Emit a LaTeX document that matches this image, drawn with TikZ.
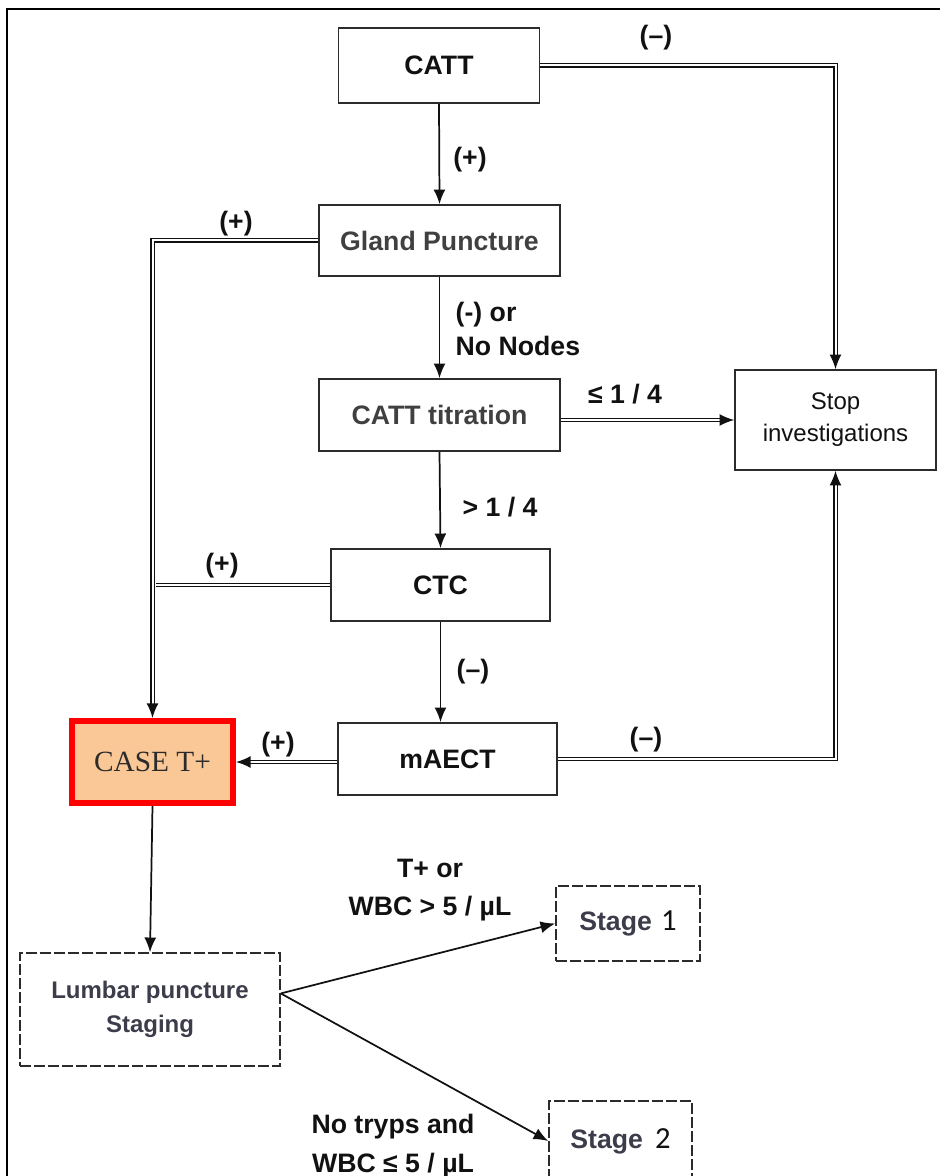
\documentclass[tikz,border=0pt]{standalone}
\usepackage{fontspec}
\setmainfont{Liberation Sans}
\newfontfamily\casefont{Liberation Serif}
\newfontfamily\digitfont{Carlito}
\usetikzlibrary{arrows.meta}
\definecolor{ink}{HTML}{111111}
\definecolor{edge}{HTML}{2B2B2B}
\definecolor{dim}{HTML}{404040}
\definecolor{slate}{HTML}{3C3C4A}
\definecolor{alert}{HTML}{FF0000}
\definecolor{peach}{HTML}{FAC896}

\begin{document}
\begin{tikzpicture}[x=0.75pt,y=-0.75pt,
  every node/.style={font=\fontsize{20}{28}\selectfont\bfseries,text=ink},
  box/.style={draw=edge,line width=1.2pt,inner sep=0pt,align=center},
  dashbox/.style={box,dash pattern=on 8.5pt off 2pt},
  tip/.style={-{Latex[length=11pt,width=9pt]}},
  one/.style={draw=ink,line width=1.3pt,tip},
  two/.style={draw=ink,line width=1.1pt,double,double distance=1.5pt}]
\useasboundingbox (0,0) rectangle (939,1176);
\draw[line width=2pt] (7,1190) -- (7,9) -- (950,9);

% boxes
\node[box,minimum width=150.75pt,minimum height=56.25pt] (catt) at (439,65.5) {CATT};
\node[box,minimum width=180.75pt,minimum height=53.25pt,text=dim] (gland) at (439.5,240.5) {Gland Puncture};
\node[box,minimum width=180.75pt,minimum height=54pt,text=dim] (titr) at (439.5,415) {CATT titration};
\node[box,minimum width=150.75pt,minimum height=75pt,font=\fontsize{18}{24}\selectfont] (stop) at (835.5,420) {Stop\\investigations};
\node[box,minimum width=164.25pt,minimum height=54pt] (ctc) at (440.5,585) {CTC};
\node[box,minimum width=164.25pt,minimum height=54pt] (maect) at (447.5,759) {mAECT};
\node[draw=alert,line width=4.5pt,fill=peach,inner sep=0pt,minimum width=120.75pt,minimum height=61.5pt,
  font=\casefont\fontsize{22}{26}\selectfont,text=edge] (caseT) at (152.5,762) {CASE T+};
\node[dashbox,minimum width=195pt,minimum height=84.75pt,text=slate,font=\fontsize{18}{25}\selectfont\bfseries] (lumbar) at (150,1009.5) {Lumbar puncture\\Staging};
\node[dashbox,minimum width=108pt,minimum height=56.25pt,text=slate] (stage1) at (628,923.5)
  {Stage\hspace{7pt}{\digitfont\mdseries\fontsize{23}{28}\selectfont\color{ink}1}};
\node[dashbox,minimum width=107.25pt,minimum height=60pt,text=slate] (stage2) at (620.5,1141)
  {Stage\hspace{9pt}{\digitfont\mdseries\fontsize{23}{28}\selectfont\color{ink}2}};

% connectors
\draw[one] (catt.south) -- (gland.north);
\draw[one] (gland.south) -- (titr.north);
\draw[one] (titr.south) -- (ctc.north);
\draw[one] (ctc.south) -- (ctc.south |- maect.north);
\draw[two,tip] (catt.east) -| (stop.north);
\draw[two,tip] (titr.east |- stop.west) -- (stop.west);
\draw[two,tip] (maect.east) -| (stop.south);
\draw[two,shorten >=2.4pt] (ctc.west) -- (ctc.west -| caseT.north);
\draw[two,tip] (gland.west) -| (caseT.north);
\draw[two,tip] (maect.west |- caseT.east) -- (caseT.east);
\draw[one] (caseT.south) -- (lumbar.north);
\draw[one] (lumbar.7) -- (stage1.west);
\draw[one] (lumbar.7) -- (stage2.west);

% labels
\node (nA) at (656,38) {(–)};
\node (nB) at (470,160) {(+)};
\node (nC) at (236,224) {(+)};
\node[anchor=west,align=left,font=\fontsize{20}{25}\selectfont\bfseries] (nD) at (451,329) {(-) or\\No Nodes};
\node (nE) at (625,394) {≤ 1 / 4};
\node (nF) at (500,507) {> 1 / 4};
\node (nG) at (222,566) {(+)};
\node (nH) at (473,672) {(–)};
\node (nI) at (278,745) {(+)};
\node (nJ) at (646,740) {(–)};
\node[align=center,font=\fontsize{20}{29}\selectfont\bfseries] (nK) at (430,890) {T+ or\\WBC > 5 / µL};
\node[align=center,font=\fontsize{20}{29}\selectfont\bfseries] (nL) at (393,1146) {No tryps and\\WBC ≤ 5 / µL};
\end{tikzpicture}
\end{document}
